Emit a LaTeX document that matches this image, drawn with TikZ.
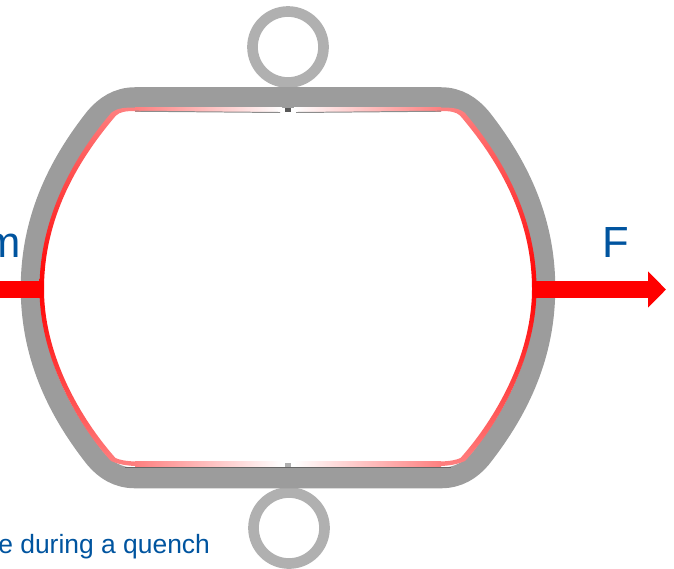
\documentclass[tikz,border=0pt]{standalone}
\usepackage{fontspec}
\setmainfont{Liberation Sans}
\usetikzlibrary{arrows.meta}
\definecolor{quenchblue}{RGB}{0,84,159}
\definecolor{bandgray}{RGB}{156,156,156}
\definecolor{ringgray}{RGB}{176,176,176}
\tikzset{
  band/.style={line width=14.6pt,bandgray},
  ring/.style={line width=7.6pt,ringgray},
  force/.style={line width=12.4pt,red},
  bigtext/.style={text=quenchblue,font=\fontsize{31}{31}\selectfont,inner sep=0pt},
  smalltext/.style={text=quenchblue,font=\fontsize{18.8}{20}\selectfont,inner sep=0pt}
}
\begin{document}
\begin{tikzpicture}[x=0.025cm,y=-0.025cm]
    \useasboundingbox (0,0) rectangle (674,568);
    \clip (0,0) rectangle (674,568);
    % rings and stems
    \draw[ring] (288,47) circle (35.5);
    \draw[ring] (289,528) circle (35.5);
    \fill[ringgray] (282,80) rectangle (295,90);
    \fill[ringgray] (282,485) rectangle (295,497);
    % vessel wall
    \draw[band] (135,97.5) -- (441,97.5)
      .. controls (458,97.5) and (471,106) .. (481,118)
      .. controls (514,160) and (545,215) .. (545,288)
      .. controls (545,361) and (514,416) .. (481,458)
      .. controls (471,470) and (458,478) .. (441,478)
      -- (135,478)
      .. controls (118,478) and (105,470) .. (95,458)
      .. controls (62,416) and (31,361) .. (31,288)
      .. controls (31,215) and (62,160) .. (95,118)
      .. controls (105,106) and (118,97.5) .. (135,97.5) -- cycle;
    % red inner layer, once for each side
    \foreach \mirror in {1,-1} {
      \begin{scope}[shift={(288,0)},xscale=\mirror,shift={(-288,0)}]
        \shade[top color=red!50,bottom color=red!50,middle color=red]
          (135,107.5) .. controls (125,107.5) and (117,108) .. (111.5,112.5)
          .. controls (76,154) and (39.5,215) .. (39.5,289)
          .. controls (39.5,355) and (76,423) .. (111,461)
          .. controls (118,464) and (125,465.5) .. (135,466)
          -- (135,461.5)
          .. controls (125,461) and (120,460) .. (115.5,458)
          .. controls (80,418) and (44,355) .. (44,289)
          .. controls (44,215) and (80.5,157) .. (116,115.5)
          .. controls (120,112) and (125,111) .. (135,111) -- cycle;
      \end{scope}
    }
    \shade[left color=red!50,right color=white] (135,107.5) rectangle (282,111);
    \shade[left color=white,right color=red!50] (294,107.5) rectangle (441,111);
    \shade[left color=red!50,right color=white] (135,461.5) rectangle (282,466);
    \shade[left color=white,right color=red!50] (294,461.5) rectangle (441,466);
    % thin edges and the small marks at the middle
    \draw[black!45,line width=0.7pt] (135,111.2) -- (280,112.5);
    \draw[black!45,line width=0.7pt] (296,112.5) -- (441,111.2);
    \draw[black!60,line width=0.7pt] (125,467) -- (451,467);
    \fill[black!65] (285,108) rectangle (291,112);
    \fill[ringgray] (285,463) rectangle (291,467);
    % forces
    \coordinate (pullLeftEnd) at (0,289.5);
    \coordinate (wallLeft) at (43,289.5);
    \coordinate (wallRight) at (533,289.5);
    \coordinate (pullRightEnd) at (666,289.5);
    \draw[force] (wallLeft) -- (pullLeftEnd);
    \draw[force,-{Triangle[length=12.8pt,width=25pt]}] (wallRight) -- (pullRightEnd);
    % labels
    \node[bigtext,anchor=base east] (labelM) at (21,257) {m};
    \node[bigtext,anchor=base] (labelF) at (616,257) {F};
    \node[smalltext,anchor=base west] (labelQuench) at (-2,553) {e during a quench};
  \end{tikzpicture}
\end{document}
